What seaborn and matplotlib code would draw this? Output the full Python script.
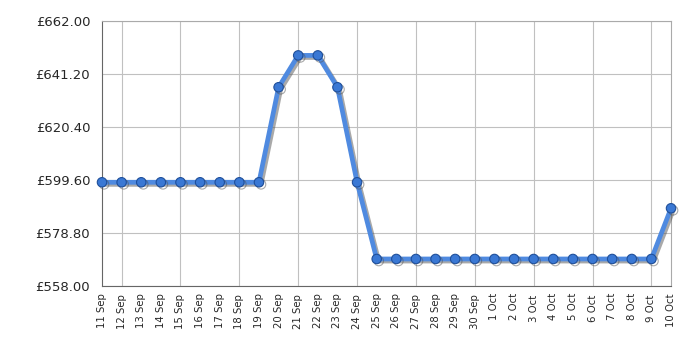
import matplotlib
matplotlib.use("Agg")
import matplotlib.pyplot as plt
import matplotlib.patheffects as pe
import seaborn as sns
import pandas as pd
import numpy as np

dates = ["11 Sep", "12 Sep", "13 Sep", "14 Sep", "15 Sep", "16 Sep", "17 Sep", "18 Sep",
         "19 Sep", "20 Sep", "21 Sep", "22 Sep", "23 Sep", "24 Sep", "25 Sep", "26 Sep",
         "27 Sep", "28 Sep", "29 Sep", "30 Sep", "1 Oct", "2 Oct", "3 Oct", "4 Oct",
         "5 Oct", "6 Oct", "7 Oct", "8 Oct", "9 Oct", "10 Oct"]
prices = [598.7, 598.7, 598.7, 598.7, 598.7, 598.7, 598.7, 598.7, 598.7,
          636.0, 648.5, 648.5, 636.0, 598.7,
          568.6, 568.6, 568.6, 568.6, 568.6, 568.6, 568.6, 568.6, 568.6, 568.6,
          568.6, 568.6, 568.6, 568.6, 568.6, 588.5]
y_ticks = [558.0, 578.8, 599.6, 620.4, 641.2, 662.0]

df = pd.DataFrame({"i": np.arange(len(dates)), "price": prices})

sns.set_style("white")
plt.rcParams['font.family'] = ['DejaVu Sans']
fig = plt.figure(figsize=(7, 3.5), dpi=100)
ax = fig.add_axes([0.1457, 0.1829, 0.8129, 0.7571])

sns.lineplot(data=df, x="i", y="price", ax=ax, color="#4f8ae0", linewidth=3.4,
             marker="o", markersize=6.8, markerfacecolor="#3a78d4",
             markeredgecolor="#1f4f9a", markeredgewidth=0.8,
             path_effects=[pe.SimpleLineShadow(offset=(1.5, -1.5), shadow_color="#555555", alpha=0.5),
                           pe.Normal()], zorder=3, clip_on=False)

ax.set_xlim(0, len(dates) - 1)
ax.set_ylim(y_ticks[0], y_ticks[-1])
ax.set_yticks(y_ticks)
ax.set_yticklabels([f"£{v:.2f}" for v in y_ticks], fontsize=9.5)

major = [i for i in range(len(dates)) if i % 3 == 1]
minor = [i for i in range(len(dates)) if i % 3 != 1]
ax.set_xticks(major)
ax.set_xticklabels([dates[i] for i in major], rotation=90, fontsize=7.3)
ax.set_xticks(minor, minor=True)
ax.set_xticklabels([dates[i] for i in minor], minor=True, rotation=90, fontsize=7.3)
ax.tick_params(axis="x", which="major", length=4, color="#333333", pad=2)
ax.tick_params(axis="x", which="minor", length=0, pad=5)
ax.tick_params(axis="y", length=5.5, color="#333333", pad=3)

ax.grid(True, which="major", color="#c0c0c0", linewidth=0.8)
ax.set_axisbelow(True)
for s in ["top", "right"]:
    ax.spines[s].set_color("#aaaaaa")
for s in ["left", "bottom"]:
    ax.spines[s].set_color("#666666")
ax.set_xlabel("")
ax.set_ylabel("")

fig.savefig("out.png", dpi=100)
